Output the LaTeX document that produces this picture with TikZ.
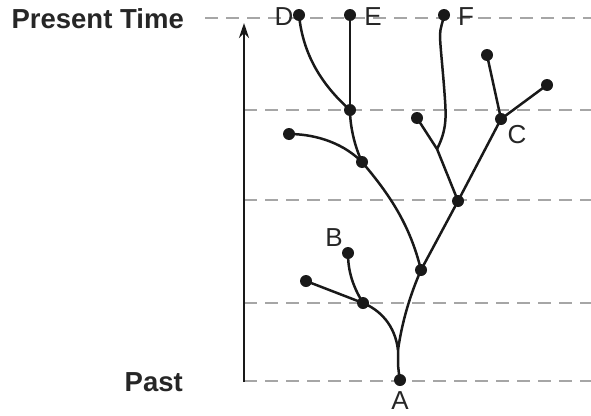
\documentclass[tikz,border=0pt]{standalone}
\usepackage{fontspec}
\setmainfont{Liberation Sans}
\usetikzlibrary{arrows.meta}
\begin{document}
\begin{tikzpicture}[x=1pt,y=-1pt,
  guide/.style={draw=black!35,line width=2.6pt,dash pattern=on 13pt off 8pt},
  branch/.style={draw=black!90,line width=2.5pt},
  dot/.style={circle,fill=black!90,inner sep=0pt,minimum size=12pt},
  lbl/.style={font=\fontsize{26}{30}\selectfont,inner sep=0pt,text=black!85},
  axislbl/.style={font=\fontsize{27.5}{30}\selectfont\bfseries,inner sep=0pt,text=black!85}]
\useasboundingbox (0,0) rectangle (591,415);
% guide lines
\coordinate (g0a) at (205,18); \coordinate (g0b) at (591,18);
\coordinate (g1a) at (244,110); \coordinate (g1b) at (591,110);
\coordinate (g2a) at (244,200); \coordinate (g2b) at (591,200);
\coordinate (g3a) at (244,303); \coordinate (g3b) at (591,303);
\coordinate (g4a) at (244,381); \coordinate (g4b) at (591,381);
\draw[guide] (g0a) -- (g0b);
\draw[guide] (g1a) -- (g1b);
\draw[guide] (g2a) -- (g2b);
\draw[guide] (g3a) -- (g3b);
\draw[guide] (g4a) -- (g4b);
% axis
\coordinate (ax0) at (244,382);
\coordinate (ax1) at (244,23);
\draw[line width=2.6pt,black!90,-{Stealth[length=15pt,width=10pt]}] (ax0) -- (ax1);
\node[axislbl,anchor=east] (present) at (184,19) {Present Time};
\node[axislbl,anchor=east] (past) at (183,382) {Past};
% nodes
\node[dot] (A) at (400,380) {};
\coordinate (s) at (398,350);
\node[dot] (n1) at (363,303) {};
\node[dot] (n1a) at (306,281) {};
\node[dot] (B) at (348,253) {};
\node[dot] (n2) at (421,270) {};
\node[dot] (n3) at (362,162) {};
\node[dot] (n3a) at (289,134) {};
\node[dot] (n4) at (350,110) {};
\node[dot] (D) at (299,15) {};
\node[dot] (E) at (350,15) {};
\node[dot] (n5) at (458,201) {};
\coordinate (fj) at (437,149);
\node[dot] (n5a) at (417,118) {};
\node[dot] (F) at (444,15) {};
\node[dot] (C) at (501,119) {};
\node[dot] (c1) at (487,55) {};
\node[dot] (c2) at (547,85) {};
% labels
\node[lbl] (lD) at (284,17) {D};
\node[lbl] (lE) at (373,17) {E};
\node[lbl] (lF) at (466,17) {F};
\node[lbl] (lC) at (517,135) {C};
\node[lbl] (lB) at (334,238) {B};
\node[lbl,anchor=south] (lA) at (400,410) {A};
% branches
\draw[branch] (A.center) .. controls (398,368) .. (s);
\draw[branch] (s) .. controls (395,325) and (380,310) .. (n1.center);
\draw[branch] (s) .. controls (402,322) and (410,295) .. (n2.center);
\draw[branch] (n1.center) -- (n1a.center);
\draw[branch] (n1.center) .. controls (352,285) and (348,270) .. (B.center);
\draw[branch] (n2.center) .. controls (410,225) and (390,195) .. (n3.center);
\draw[branch] (n3.center) .. controls (340,140) and (310,134) .. (n3a.center);
\draw[branch] (n3.center) .. controls (354,145) and (350,125) .. (n4.center);
\draw[branch] (n4.center) -- (E.center);
\draw[branch] (n4.center) .. controls (322,85) and (303,55) .. (D.center);
\draw[branch] (n2.center) -- (n5.center);
\draw[branch] (n5.center) -- (fj) -- (n5a.center);
\draw[branch] (fj) .. controls (447,130) and (446,115) .. (445,100) .. controls (443,70) and (440,45) .. (440,35) .. controls (440,28) and (443,22) .. (F.center);
\draw[branch] (n5.center) -- (C.center);
\draw[branch] (C.center) -- (c1.center);
\draw[branch] (C.center) -- (c2.center);
\end{tikzpicture}
\end{document}
